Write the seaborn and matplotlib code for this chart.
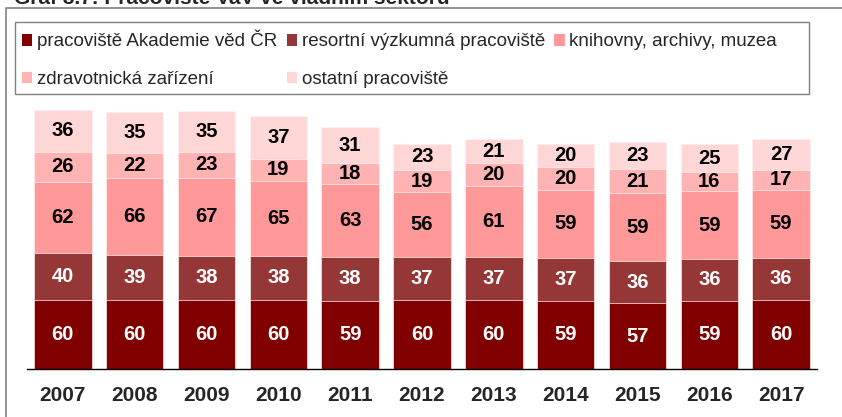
import matplotlib
matplotlib.use("Agg")
import matplotlib.pyplot as plt
from matplotlib.patches import Patch, Rectangle
from matplotlib.lines import Line2D
import seaborn as sns
import pandas as pd
import numpy as np

years = ["2007", "2008", "2009", "2010", "2011", "2012", "2013", "2014", "2015", "2016", "2017"]
akademie = [60, 60, 60, 60, 59, 60, 60, 59, 57, 59, 60]
resortni = [40, 39, 38, 38, 38, 37, 37, 37, 36, 36, 36]
knihovny = [62, 66, 67, 65, 63, 56, 61, 59, 59, 59, 59]
zdravotnicka = [26, 22, 23, 19, 18, 19, 20, 20, 21, 16, 17]
ostatni = [36, 35, 35, 37, 31, 23, 21, 20, 23, 25, 27]

series_names = ["pracoviště Akademie věd ČR", "resortní výzkumná pracoviště",
                "knihovny, archivy, muzea", "zdravotnická zařízení", "ostatní pracoviště"]
colors = ["#800000", "#963737", "#FF9999", "#FFB3B3", "#FFD7D7"]
label_colors = ["white", "white", "black", "black", "black"]
title = "Graf 8.7: Pracoviště VaV ve vládním sektoru"

sns.set_style("white")
plt.rcParams["font.family"] = ["Liberation Sans", "DejaVu Sans"]

W, H = 842, 417
fig = plt.figure(figsize=(W / 100, H / 100), dpi=100)

# axes box in pixels: x 27..817, baseline at y=369
ymax = 240
px_per_unit = 1.156
ax = fig.add_axes([27 / W, (H - 369) / H, 790 / W, ymax * px_per_unit / H])

df = pd.DataFrame({"year": years, "a": akademie, "b": resortni, "c": knihovny,
                   "d": zdravotnicka, "e": ostatni})
cols = ["a", "b", "c", "d", "e"]
cum = df[cols].cumsum(axis=1)

# draw cumulative bars from the tallest down so they look stacked
for i in reversed(range(len(cols))):
    sns.barplot(x=df["year"], y=cum[cols[i]], color=colors[i], width=0.8,
                saturation=1, edgecolor="#fff0f0", linewidth=0.5, ax=ax)

for i, c in enumerate(cols):
    mids = cum[c] - df[c] / 2
    for x, (m, v) in enumerate(zip(mids, df[c])):
        ax.text(x, m, str(v), ha="center", va="center", fontsize=14.5,
                fontweight="bold", color=label_colors[i])

ax.set_xlim(-0.5, len(years) - 0.5)
ax.set_ylim(0, ymax)
ax.set_xlabel("")
ax.set_ylabel("")
ax.set_yticks([])
for s in ["top", "right", "left"]:
    ax.spines[s].set_visible(False)
ax.spines["bottom"].set_color("black")
ax.spines["bottom"].set_linewidth(1)
ax.set_xticks(np.arange(-0.5, len(years)), minor=True)
ax.tick_params(axis="x", which="minor", length=6, color="#808080", width=1, direction="out")
ax.tick_params(axis="x", which="major", length=0, pad=12)
for t in ax.get_xticklabels():
    t.set_fontsize(15)
    t.set_fontweight("bold")

# legend (row-wise order for 3 columns)
handles = [Patch(facecolor=colors[i], edgecolor="none") for i in range(5)]
order = [0, 3, 1, 4, 2]
fig.legend([handles[i] for i in order], [series_names[i] for i in order],
           ncol=3, loc="upper left", bbox_to_anchor=(22 / W, 1 - 30 / H),
           frameon=False, fontsize=13.5, borderpad=0, borderaxespad=0,
           handlelength=0.55, handleheight=0.55, handletextpad=0.25,
           columnspacing=0.5, labelspacing=1.1)

# legend box and outer frame
fig.add_artist(Rectangle((15 / W, 1 - 94 / H), (809 - 15) / W, (94 - 22) / H,
                         transform=fig.transFigure, fill=False,
                         edgecolor="#808080", linewidth=1))
fig.add_artist(Line2D([6 / W, 6 / W, 1.01], [-0.01, 1 - 7.5 / H, 1 - 7.5 / H],
                      transform=fig.transFigure, color="#808080", linewidth=1.2))

# title is cut by the top edge, as in the source image
fig.text(14 / W, 1 - 3.5 / H, title, fontsize=15, fontweight="bold", va="baseline")

fig.savefig("out.png", dpi=100)
